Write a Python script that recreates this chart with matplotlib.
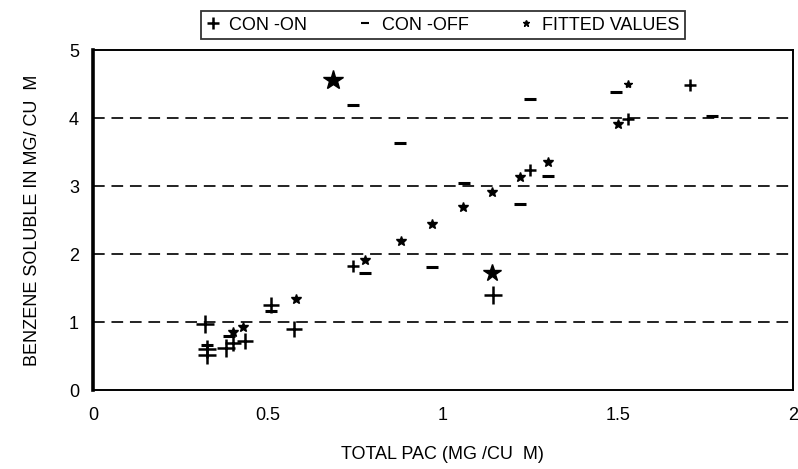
import matplotlib.pyplot as plt
from matplotlib.lines import Line2D

plt.rcParams['font.family'] = ['Liberation Sans', 'DejaVu Sans']

# CON-ON (+)
on_x = [0.32, 0.325, 0.325, 0.38, 0.40, 0.435, 0.51, 0.575, 0.744, 1.144, 1.25, 1.53, 1.706]
on_y = [0.98, 0.52, 0.60, 0.62, 0.70, 0.72, 1.26, 0.90, 1.83, 1.40, 3.24, 3.99, 4.49]

# CON-OFF (-)
off_x = [0.325, 0.39, 0.51, 0.777, 0.97, 0.744, 0.877, 1.06, 1.22, 1.30, 1.25, 1.496, 1.77]
off_y = [0.67, 0.80, 1.17, 1.73, 1.81, 4.20, 3.64, 3.05, 2.74, 3.15, 4.28, 4.38, 4.03]

# fitted values (*)
fit_x = [0.40, 0.43, 0.58, 0.686, 0.777, 0.88, 0.97, 1.058, 1.14, 1.139, 1.22, 1.30, 1.53, 1.50]
fit_y = [0.85, 0.93, 1.34, 4.56, 1.91, 2.20, 2.45, 2.69, 2.91, 1.73, 3.14, 3.36, 4.50, 3.92]

xticks = [0, 0.5, 1, 1.5, 2]
xtick_labels = ['0', '0.5', '1', '1.5', '2']
yticks = [0, 1, 2, 3, 4, 5]

# marker sizes (style only)
on_ms = [13, 13, 13, 13, 12, 12, 12, 12, 9, 13, 8, 8, 8]
fit_ms = [7, 7, 7, 15, 7, 7, 7, 7, 7, 13, 7, 7, 6, 7]

fig = plt.figure(figsize=(7.98, 4.69), dpi=100)
ax = fig.add_axes([0.1165, 0.168, 0.877, 0.725])

for v in [1, 2, 3, 4]:
    ax.axhline(v, color='#222222', lw=1.4, linestyle=(0, (6, 3.5)), zorder=1)

for x, y, s in zip(on_x, on_y, on_ms):
    ax.plot(x, y, marker='+', color='black', ms=s, mew=1.8, ls='none', zorder=3)
ax.plot(off_x, off_y, marker='_', color='black', ms=8, mew=2.2, ls='none', zorder=3)
for x, y, s in zip(fit_x, fit_y, fit_ms):
    ax.plot(x, y, marker='*', color='black', ms=s, ls='none', zorder=3)

ax.set_xlim(0, 2)
ax.set_ylim(0, 5)
ax.set_xticks(xticks)
ax.set_xticklabels(xtick_labels)
ax.set_yticks(yticks)
ax.tick_params(length=0, labelsize=13, pad=10)
ax.tick_params(axis='x', pad=12)

for side in ['top', 'right', 'bottom']:
    ax.spines[side].set_linewidth(1.4)
ax.spines['left'].set_linewidth(2.6)

ax.set_xlabel('TOTAL PAC (MG /CU  M)', fontsize=13, labelpad=16)
ax.set_ylabel('BENZENE SOLUBLE IN MG/ CU  M', fontsize=13, labelpad=20)

handles = [
    Line2D([], [], marker='+', color='black', ms=8, mew=1.8, ls='none'),
    Line2D([], [], marker='_', color='black', ms=6, mew=1.5, ls='none'),
    Line2D([], [], marker='*', color='black', ms=5, ls='none'),
]
leg = fig.legend(handles, ['CON -ON', 'CON -OFF', 'FITTED VALUES'],
                 loc='upper center', bbox_to_anchor=(0.555, 0.995), ncol=3,
                 fontsize=13, frameon=True, fancybox=False, edgecolor='black',
                 handlelength=0.8, handletextpad=0.5, columnspacing=2.8,
                 borderpad=0.3)
leg.get_frame().set_linewidth(1.3)

fig.savefig('out.png', dpi=100)
